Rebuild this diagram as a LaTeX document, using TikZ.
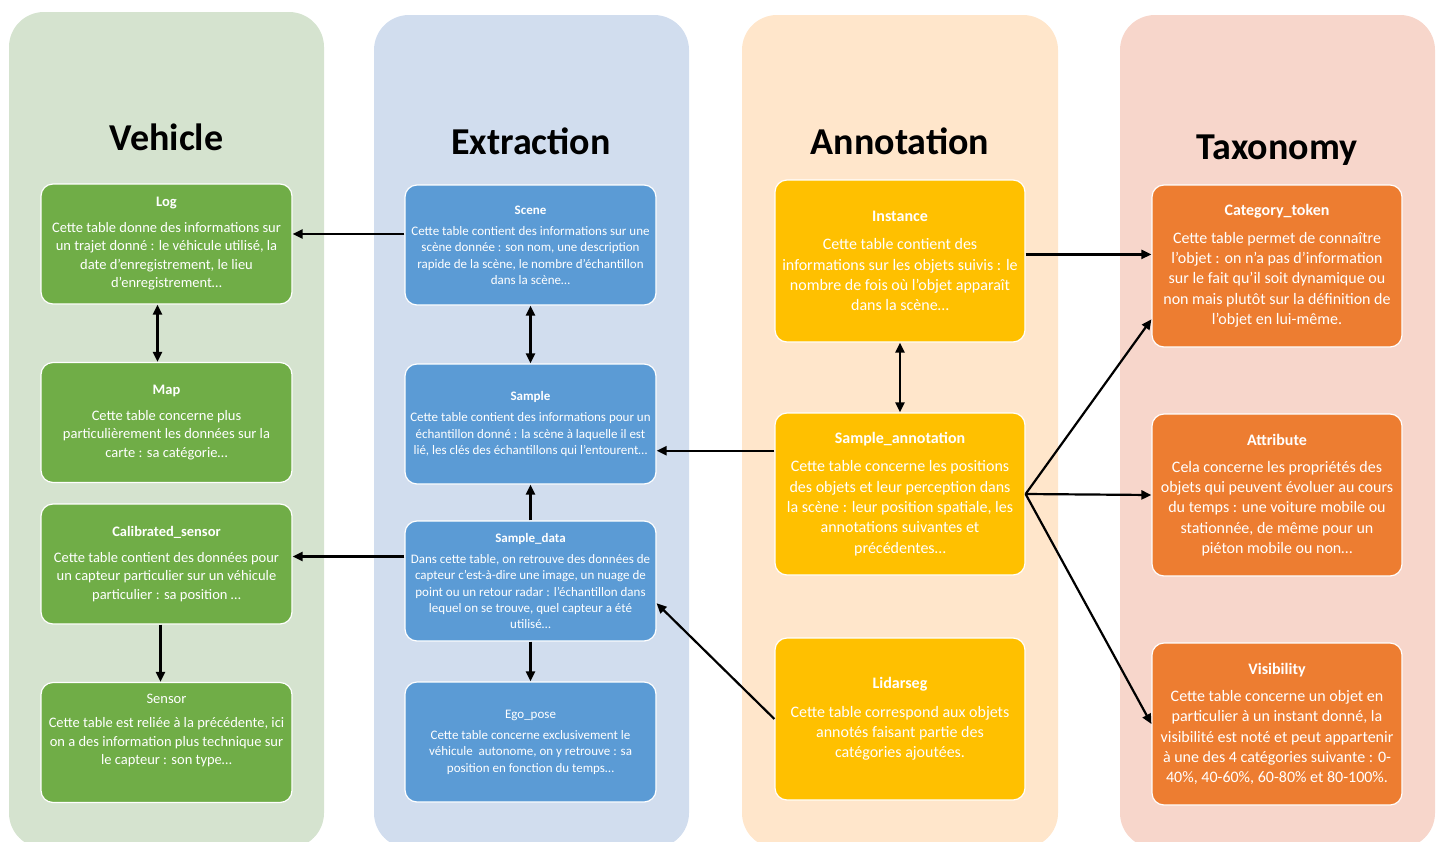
\documentclass[tikz,border=0pt]{standalone}
\usepackage{fontspec}
\setmainfont{Carlito}
\usepackage{tikz}
\usetikzlibrary{arrows.meta}
\usetikzlibrary{positioning}

\definecolor{vehlane}{HTML}{D5E3CF}
\definecolor{extlane}{HTML}{D1DDEE}
\definecolor{annlane}{HTML}{FFE6CB}
\definecolor{taxlane}{HTML}{F7D6CB}
\definecolor{vehbox}{HTML}{70AD47}
\definecolor{extbox}{HTML}{5B9BD5}
\definecolor{annbox}{HTML}{FFC000}
\definecolor{taxbox}{HTML}{ED7D31}

\tikzset{
  lane/.style={rounded corners=35pt},
  lanetitle/.style={anchor=base,font=\fontsize{38}{42}\selectfont\bfseries},
  tbox/.style={draw=white,line width=1.2pt,rounded corners=12pt,text=white,align=center,inner sep=0pt,minimum width=251pt},
  vehtab/.style={tbox,fill=vehbox,minimum height=120pt,font=\fontsize{14.5}{18.5}\selectfont},
  exttab/.style={tbox,fill=extbox,minimum height=120pt,font=\fontsize{13}{16.3}\selectfont},
  anntab/.style={tbox,fill=annbox,minimum height=162pt,minimum width=250pt,font=\fontsize{16}{20.4}\selectfont},
  taxtab/.style={tbox,fill=taxbox,minimum height=162pt,minimum width=250pt,font=\fontsize{16}{20.3}\selectfont},
  link/.style={line width=2.2pt,-{Triangle[length=10pt,width=9pt]}},
  dlink/.style={line width=2.2pt,{Triangle[length=10pt,width=9pt]}-{Triangle[length=10pt,width=9pt]}}
}

\begin{document}
\begin{tikzpicture}[x=1pt,y=-1pt]
\useasboundingbox (0,0) rectangle (1440,841);
\clip (0,0) rectangle (1440,841);

% lanes
\fill[lane,vehlane] (9,12) rectangle (324,848);
\fill[lane,extlane] (374,15) rectangle (689,848);
\fill[lane,annlane] (742,15) rectangle (1058,848);
\fill[lane,taxlane] (1120,15) rectangle (1435,848);

\node[lanetitle] (tveh) at (166.5,150) {Vehicle};
\node[lanetitle] (text) at (531,154) {Extraction};
\node[lanetitle] (tann) at (900,154) {Annotation};
\node[lanetitle] (ttax) at (1277,159) {Taxonomy};

% Vehicle
\node[vehtab] (log) at (166.5,244) {\textbf{Log}\\[7pt]Cette table donne des informations sur\\un trajet donné : le véhicule utilisé, la\\date d’enregistrement, le lieu\\d’enregistrement…};
\node[vehtab] (map) at (166.5,422.5) {\textbf{Map}\\[7pt]Cette table concerne plus\\particulièrement les données sur la\\carte : sa catégorie…};
\node[vehtab] (calib) at (166.5,564) {\textbf{Calibrated\_sensor}\\[7pt]Cette table contient des données pour\\un capteur particulier sur un véhicule\\particulier : sa position …};
\node[vehtab] (sensor) at (166.5,742.5) {Sensor\\[6pt]Cette table est reliée à la précédente, ici\\on a des information plus technique sur\\le capteur : son type…\\[8pt]\mbox{}};

% Extraction
\node[exttab] (scene) at (530.5,245) {\textbf{Scene}\\[5pt]Cette table contient des informations sur une\\scène donnée : son nom, une description\\rapide de la scène, le nombre d’échantillon\\dans la scène…};
\node[exttab] (sample) at (530.5,424) {\textbf{Sample}\\[5pt]Cette table contient des informations pour un\\échantillon donné : la scène à laquelle il est\\lié, les clés des échantillons qui l’entourent…};
\node[exttab] (sdata) at (530.5,581) {\textbf{Sample\_data}\\[5pt]Dans cette table, on retrouve des données de\\capteur c’est-à-dire une image, un nuage de\\point ou un retour radar : l’échantillon dans\\lequel on se trouve, quel capteur a été\\utilisé…};
\node[exttab] (ego) at (530.5,742) {Ego\_pose\\[5pt]Cette table concerne exclusivement le\\véhicule\ \ autonome, on y retrouve : sa\\position en fonction du temps…};

% Annotation
\node[anntab] (inst) at (900,261) {\textbf{Instance}\\[8pt]Cette table contient des\\informations sur les objets suivis : le\\nombre de fois où l’objet apparaît\\dans la scène…};
\node[anntab] (sann) at (900,494) {\textbf{Sample\_annotation}\\[8pt]Cette table concerne les positions\\des objets et leur perception dans\\la scène : leur position spatiale, les\\annotations suivantes et\\précédentes…};
\node[anntab] (lidar) at (900,719) {\textbf{Lidarseg}\\[8pt]Cette table correspond aux objets\\annotés faisant partie des\\catégories ajoutées.};

% Taxonomy
\node[taxtab] (cat) at (1277,266) {\textbf{Category\_token}\\[7pt]Cette table permet de connaître\\l’objet : on n’a pas d’information\\sur le fait qu’il soit dynamique ou\\non mais plutôt sur la définition de\\l’objet en lui-même.};
\node[taxtab] (attr) at (1277,495) {\textbf{Attribute}\\[7pt]Cela concerne les propriétés des\\objets qui peuvent évoluer au cours\\du temps : une voiture mobile ou\\stationnée, de même pour un\\piéton mobile ou non…};
\node[taxtab] (vis) at (1277,724) {\textbf{Visibility}\\[7pt]Cette table concerne un objet en\\particulier à un instant donné, la\\visibilité est noté et peut appartenir\\à une des 4 catégories suivante : 0-\\40\%, 40-60\%, 60-80\% et 80-100\%.};

% links
\draw[link] (scene.175) -- (scene.175 -| log.east);
\draw[dlink] ([xshift=-9pt]log.south) -- ([xshift=-9pt]map.north);
\draw[link] (sdata.169) -- (sdata.169 -| calib.east);
\draw[link] ([xshift=-6pt]calib.south) -- ([xshift=-6pt]sensor.north);
\draw[dlink] (scene.south) -- (sample.north);
\draw[link] (sdata.north) -- (sample.south);
\draw[link] (sdata.south) -- (ego.north);
\draw[link] (sann.161) -- (sann.161 -| sample.east);
\draw[link] (lidar.west) -- (sdata.-10);
\draw[dlink] (inst.south) -- (sann.north);
\draw[link] (inst.3) -- (inst.3 -| cat.west);
\draw[link] (sann.east) -- (cat.203);
\draw[link] (sann.east) -- (attr.west);
\draw[link] (sann.east) -- (vis.west);
\end{tikzpicture}
\end{document}
